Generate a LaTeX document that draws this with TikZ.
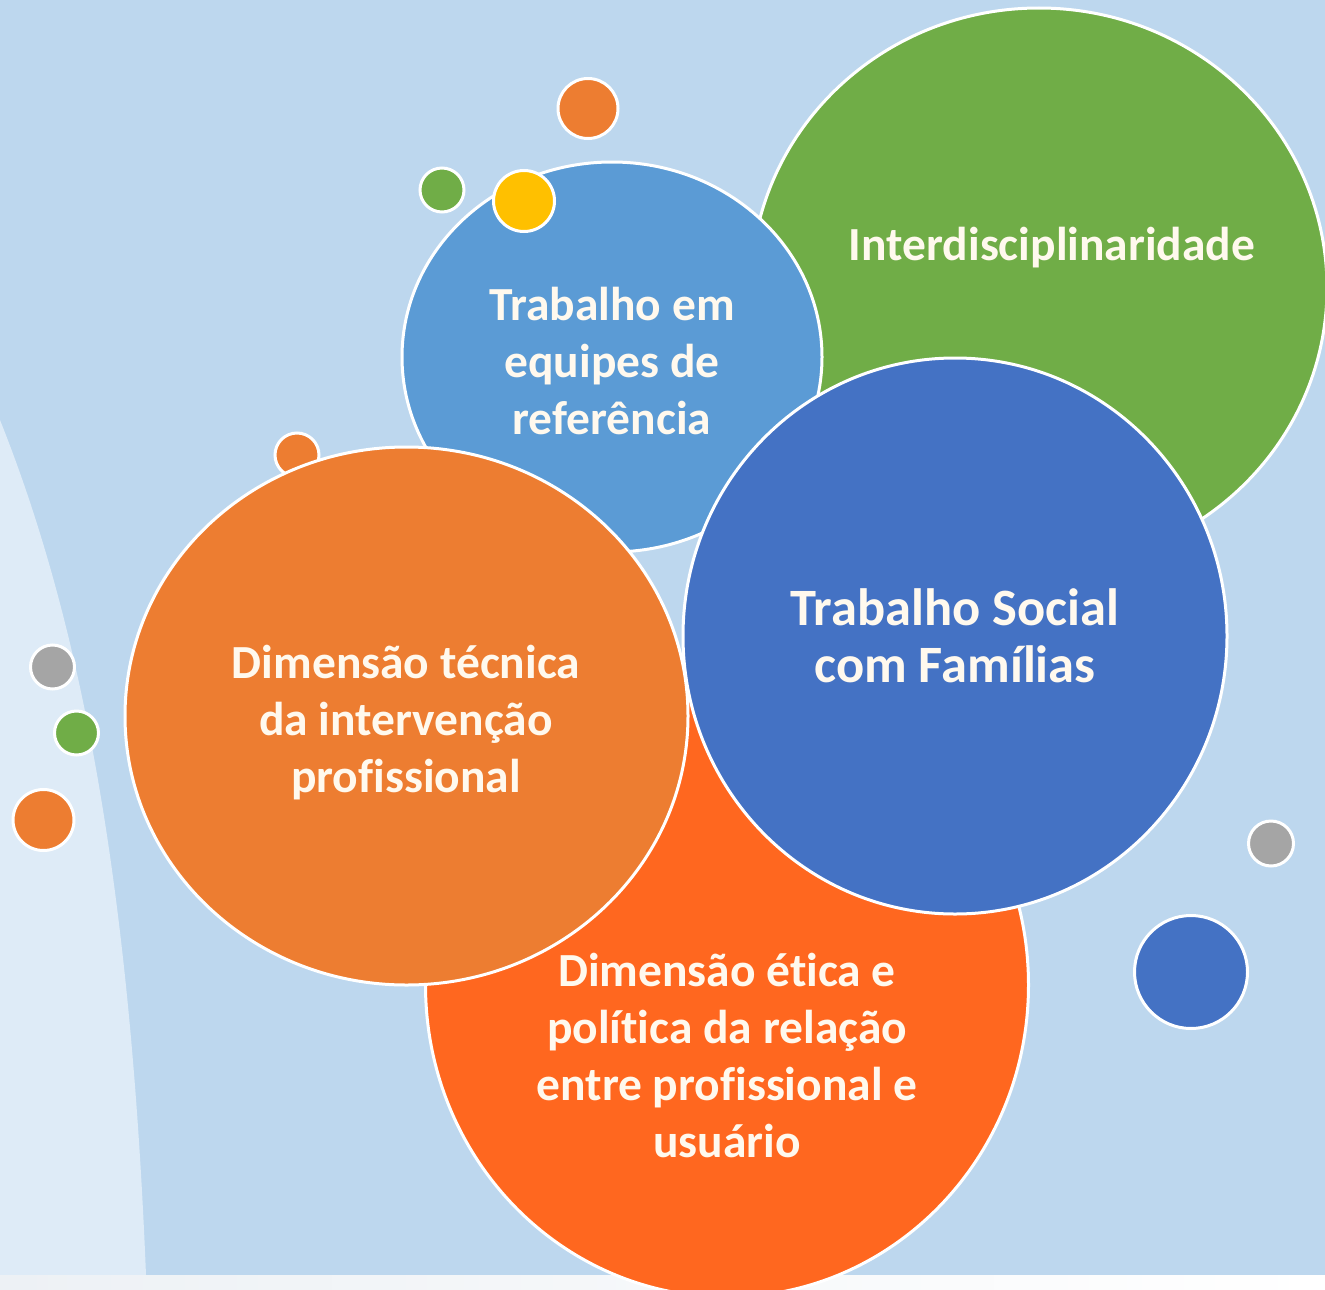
\documentclass[tikz,border=0pt]{standalone}
\usepackage{fontspec}
\setmainfont{Carlito}[Ligatures={NoCommon}]
\definecolor{bg}{HTML}{BDD7EE}
\definecolor{lt}{HTML}{DEEBF7}
\definecolor{strip}{HTML}{EDF1F5}
\definecolor{gr}{HTML}{70AD47}
\definecolor{lb}{HTML}{5B9BD5}
\definecolor{db}{HTML}{4472C4}
\definecolor{orc}{HTML}{ED7D31}
\definecolor{ro}{HTML}{FF671F}
\definecolor{ye}{HTML}{FFC000}
\definecolor{gy}{HTML}{A5A5A5}
\definecolor{txt}{HTML}{FFF9EE}
\begin{document}
\begin{tikzpicture}[x=1pt,y=-1pt,
  bub/.style={draw=white,line width=3pt},
  lbl/.style={text=txt,font=\bfseries\fontsize{47.5}{57}\selectfont,align=center,inner sep=0pt},
  biglbl/.style={text=txt,font=\bfseries\fontsize{52.5}{57}\selectfont,align=center,inner sep=0pt}]
\useasboundingbox (0,0) rectangle (1325,1290);
% background
\fill[bg] (0,0) rectangle (1325,1290);
\fill[lt] (0,420) .. controls (80,620) and (130,880) .. (146,1275) -- (0,1275) -- cycle;
\shade[left color=strip, right color=white] (0,1275) rectangle (1325,1290);
% small bubbles behind
\path[bub, fill=orc] (588,108.5) circle [radius=30];
\path[bub, fill=gr] (442,190) circle [radius=22];
% big bubbles
\path[bub, fill=gr] (1039,288) ellipse [x radius=288, y radius=280];
\path[bub, fill=lb] (612,357) ellipse [x radius=210, y radius=195];
\path[bub, fill=ye] (524,201) circle [radius=30.5];
\path[bub, fill=orc] (297,455) circle [radius=22];
\path[bub, fill=ro] (727,985) ellipse [x radius=301.5, y radius=312];
\path[bub, fill=db] (955,636) ellipse [x radius=272, y radius=278];
\path[bub, fill=orc] (406.5,716) ellipse [x radius=281.5, y radius=269];
% small side bubbles
\path[bub, fill=gy] (52.5,667) circle [radius=22];
\path[bub, fill=gr] (76.5,733) circle [radius=22];
\path[bub, fill=orc] (43.5,820) circle [radius=30.5];
\path[bub, fill=gy] (1271,843.5) circle [radius=22.5];
\path[bub, fill=db] (1191,972) circle [radius=56.5];
% labels
\node[lbl] (inter) at (1052,248) {Interdisciplinaridade};
\node[lbl] (equipes) at (612,361) {Trabalho em\\equipes de\\referência};
\node[biglbl] (social) at (955,636) {Trabalho Social\\com Famílias};
\node[lbl] (tecnica) at (406,723) {Dimensão técnica\\da intervenção\\profissional};
\node[lbl] (etica) at (727,1055) {Dimensão ética e\\política da relação\\entre profissional e\\usuário};
\end{tikzpicture}
\end{document}
